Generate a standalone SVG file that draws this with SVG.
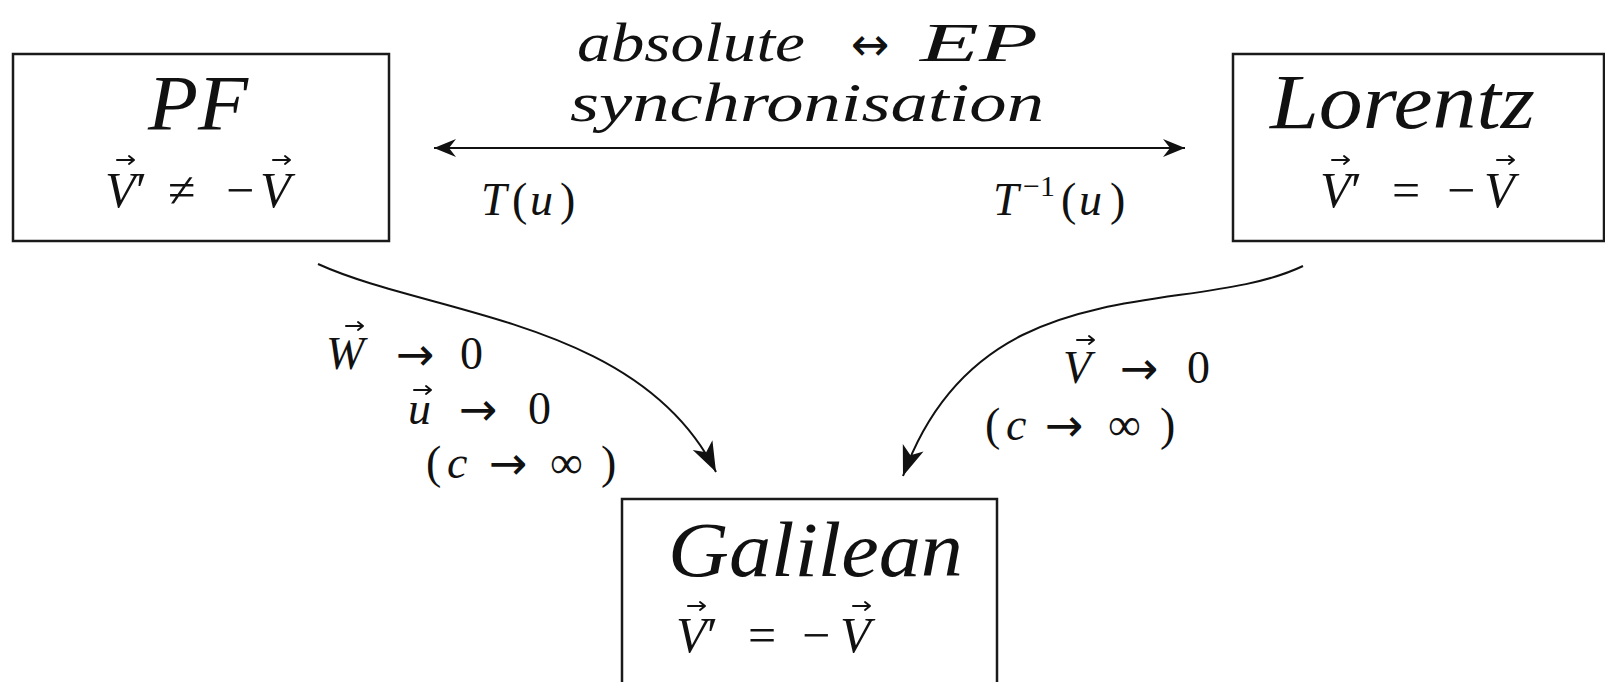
<svg xmlns="http://www.w3.org/2000/svg" width="1605" height="682" viewBox="0 0 1605 682">
<style>
.box{fill:#fff;stroke:#1a1a1a;stroke-width:2.5}
.serif{font-family:'Liberation Serif','Times New Roman',serif;fill:#111}
.title{font-style:italic;font-size:78px}
.math{font-size:50px}
.lab{font-size:46px}
.top{font-size:54px}
.ar{font-family:'DejaVu Sans',sans-serif;font-style:normal;font-size:46px}
.it{font-style:italic}
.conn{fill:none;stroke:#111;stroke-width:2}
.vec{fill:none;stroke:#111;stroke-width:2;stroke-linecap:round;stroke-linejoin:round}
</style>
<defs>
<marker id="barb" markerUnits="userSpaceOnUse" markerWidth="30" markerHeight="24" viewBox="-24 -12 30 24" refX="0" refY="0" orient="auto-start-reverse">
<path d="M0,0 L-22,-9 L-15,0 L-22,9 Z" fill="#111"/>
</marker>
<marker id="stealth" markerUnits="userSpaceOnUse" markerWidth="36" markerHeight="28" viewBox="-32 -14 36 28" refX="0" refY="0" orient="auto">
<path d="M0,0 L-30,-11 L-22,0 L-30,11 Z" fill="#111"/>
</marker>
<path id="vecArrow" class="vec" d="M0,0 H17 M12,-4 L17,0 L12,4"/>
</defs>

<g id="connectors">
<line id="sync-arrow" class="conn" x1="434" y1="148" x2="1185" y2="148" marker-start="url(#barb)" marker-end="url(#barb)"/>
<path id="pf-to-galilean" class="conn" d="M318,264 C430,315 640,320 716,472" marker-end="url(#stealth)"/>
<path id="lorentz-to-galilean" class="conn" d="M1303,266 C1190,320 980,262 903,476" marker-end="url(#stealth)"/>
</g>

<g id="sync-label">
<text class="serif top" y="61"><tspan class="it" x="577" textLength="228" lengthAdjust="spacingAndGlyphs">absolute</tspan><tspan class="ar" x="851" y="60" font-size="56">↔</tspan></text>
<text class="serif top it" x="920" y="61" textLength="118" lengthAdjust="spacingAndGlyphs">EP</text>
<text class="serif top it" x="570" y="121" textLength="474" lengthAdjust="spacingAndGlyphs">synchronisation</text>
<text class="serif lab" y="215"><tspan class="it" x="481">T</tspan><tspan x="512">(</tspan><tspan class="it" x="530">u</tspan><tspan x="560">)</tspan></text>
<text class="serif lab" y="215"><tspan class="it" x="993">T</tspan><tspan x="1023" y="196" font-size="30">−1</tspan><tspan x="1061" y="215">(</tspan><tspan class="it" x="1079">u</tspan><tspan x="1110">)</tspan></text>
</g>

<g id="node-pf">
<rect class="box" x="13" y="54" width="376" height="187"/>
<text class="serif title" x="148" y="129" textLength="100" lengthAdjust="spacingAndGlyphs">PF</text>
<text class="serif math" y="207"><tspan class="it" x="105">V</tspan><tspan x="136">′</tspan><tspan x="168">≠</tspan><tspan x="226">−</tspan><tspan class="it" x="260">V</tspan></text>
<use href="#vecArrow" x="117" y="160"/>
<use href="#vecArrow" x="273" y="160"/>
</g>

<g id="node-lorentz">
<rect class="box" x="1233" y="54" width="371" height="187"/>
<text class="serif title" x="1270" y="128" textLength="265" lengthAdjust="spacingAndGlyphs">Lorentz</text>
<text class="serif math" y="207"><tspan class="it" x="1320">V</tspan><tspan x="1351">′</tspan><tspan x="1392">=</tspan><tspan x="1447">−</tspan><tspan class="it" x="1484">V</tspan></text>
<use href="#vecArrow" x="1332" y="160"/>
<use href="#vecArrow" x="1497" y="160"/>
</g>

<g id="node-galilean">
<rect class="box" x="622" y="499" width="375" height="200"/>
<text class="serif title" x="668" y="576" textLength="295" lengthAdjust="spacingAndGlyphs">Galilean</text>
<text class="serif math" y="652"><tspan class="it" x="676">V</tspan><tspan x="707">′</tspan><tspan x="748">=</tspan><tspan x="802">−</tspan><tspan class="it" x="840">V</tspan></text>
<use href="#vecArrow" x="688" y="606"/>
<use href="#vecArrow" x="853" y="606"/>
</g>

<g id="label-left">
<text class="serif lab" y="369"><tspan class="it" x="326">W</tspan><tspan class="ar" x="396" y="370">→</tspan><tspan x="460" y="369">0</tspan></text>
<use href="#vecArrow" x="346" y="326"/>
<text class="serif lab" y="424"><tspan class="it" x="408">u</tspan><tspan class="ar" x="459" y="425">→</tspan><tspan x="528" y="424">0</tspan></text>
<use href="#vecArrow" x="414" y="390"/>
<text class="serif lab" y="478"><tspan x="426">(</tspan><tspan class="it" x="447">c</tspan><tspan class="ar" x="489" y="479">→</tspan><tspan x="550" y="478">∞</tspan><tspan x="601">)</tspan></text>
</g>

<g id="label-right">
<text class="serif lab" y="383"><tspan class="it" x="1063">V</tspan><tspan class="ar" x="1120" y="384">→</tspan><tspan x="1187" y="383">0</tspan></text>
<use href="#vecArrow" x="1077" y="340"/>
<text class="serif lab" y="440"><tspan x="985">(</tspan><tspan class="it" x="1006">c</tspan><tspan class="ar" x="1045" y="441">→</tspan><tspan x="1108" y="440">∞</tspan><tspan x="1160">)</tspan></text>
</g>
</svg>
